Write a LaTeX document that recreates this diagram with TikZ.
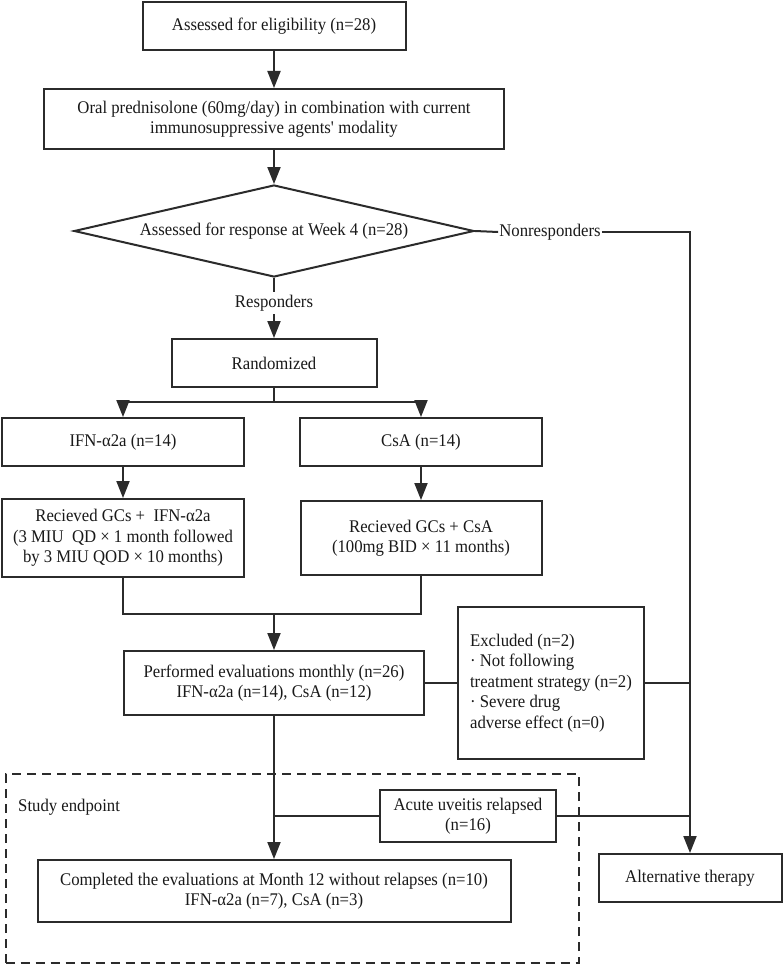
\documentclass[tikz,border=0pt]{standalone}
\usepackage{fontspec}
\setmainfont[FakeStretch=0.94]{Liberation Serif}
\usetikzlibrary{arrows.meta,shapes.geometric}
\definecolor{lc}{HTML}{2B2B2B}
\begin{document}
\begin{tikzpicture}[x=1pt,y=-1pt,
  every node/.style={font=\fontsize{17.8}{20.5}\selectfont, text=black!90},
  box/.style={draw=lc, line width=2pt, inner sep=1pt, align=center},
  conn/.style={draw=lc, line width=2pt},
  arr/.style={conn, -{Triangle[length=17pt,width=13pt]}}]
\fill[white] (0,0) rectangle (782,966);
\useasboundingbox (0,0) rectangle (782,966);
% dashed study endpoint frame
\node[draw=lc, line width=2pt, dash pattern=on 9pt off 6pt, minimum width=573pt, minimum height=189pt, inner sep=0pt] (ep) at (292,868.5) {};
\node[anchor=west, inner sep=0pt] (sel) at (18,807) {Study endpoint};
% nodes
\node[box, minimum width=263pt, minimum height=48pt] (b1) at (274,26) {Assessed for eligibility (n=28)};
\node[box, minimum width=460pt, minimum height=60pt] (b2) at (274,119) {Oral prednisolone (60mg/day) in combination with current\\immunosuppressive agents\textquotesingle\ modality};
\node[draw=lc, line width=2pt, diamond, aspect=4.35, minimum width=400pt, minimum height=92pt, inner sep=0pt] (dia) at (274,231) {Assessed for response at Week 4 (n=28)};
\node[inner sep=1pt] (nr) at (550,232) {Nonresponders};
\node[inner sep=3pt] (resp) at (274,303) {Responders};
\node[box, minimum width=205pt, minimum height=48pt] (rand) at (274,363) {Randomized};
\node[box, minimum width=242pt, minimum height=48pt] (ifn) at (123,442) {IFN-α2a (n=14)};
\node[box, minimum width=242pt, minimum height=48pt] (csa) at (421,442) {CsA (n=14)};
\node[box, minimum width=242pt, minimum height=78pt] (rifn) at (123,538) {Recieved GCs + \ IFN-α2a\\(3 MIU \ QD × 1 month followed\\by 3 MIU QOD × 10 months)};
\node[box, minimum width=241pt, minimum height=74pt] (rcsa) at (421,538) {Recieved GCs + CsA\\(100mg BID × 11 months)};
\node[box, minimum width=300pt, minimum height=64pt] (perf) at (274,683) {Performed evaluations monthly (n=26)\\IFN-α2a (n=14), CsA (n=12)};
\node[box, align=left, minimum width=186.5pt, minimum height=152pt] (excl) at (551,683) {Excluded (n=2)\\· Not following\\treatment strategy (n=2)\\· Severe drug\\adverse effect (n=0)};
\node[box, minimum width=175.5pt, minimum height=52pt] (acute) at (468,816) {Acute uveitis relapsed\\(n=16)};
\node[box, minimum width=473pt, minimum height=62pt] (comp) at (274,891) {Completed the evaluations at Month 12 without relapses (n=10)\\IFN-α2a (n=7), CsA (n=3)};
\node[box, minimum width=183pt, minimum height=48pt] (alt) at (690,878) {Alternative therapy};
% connectors
\draw[arr] (b1.south) -- (b2.north);
\draw[arr] (b2.south) -- (dia.north);
\draw[conn] (dia.south) -- (resp.north);
\draw[arr] (resp.south) -- (rand.north);
\draw[conn] (dia.east) -- (nr.west);
\draw[arr] (nr.east) -| (alt.north);
\coordinate (br) at (274,402);
\draw[conn] (rand.south) -- (br);
\draw[arr] (br) -| (ifn.north);
\draw[arr] (br) -| (csa.north);
\draw[arr] (ifn.south) -- (rifn.north);
\draw[arr] (csa.south) -- (rcsa.north);
\coordinate (jn) at (274,614);
\draw[conn] (rifn.south) |- (jn);
\draw[conn] (rcsa.south) |- (jn);
\draw[arr] (jn) -- (perf.north);
\draw[conn] (perf.east) -- (excl.west);
\draw[conn] (excl.east) -- (excl.east -| alt.north);
\draw[arr] (perf.south) -- (comp.north);
\draw[conn] (acute.west) -- (acute.west -| perf.south);
\draw[conn] (acute.east) -- (acute.east -| alt.north);
\end{tikzpicture}
\end{document}
